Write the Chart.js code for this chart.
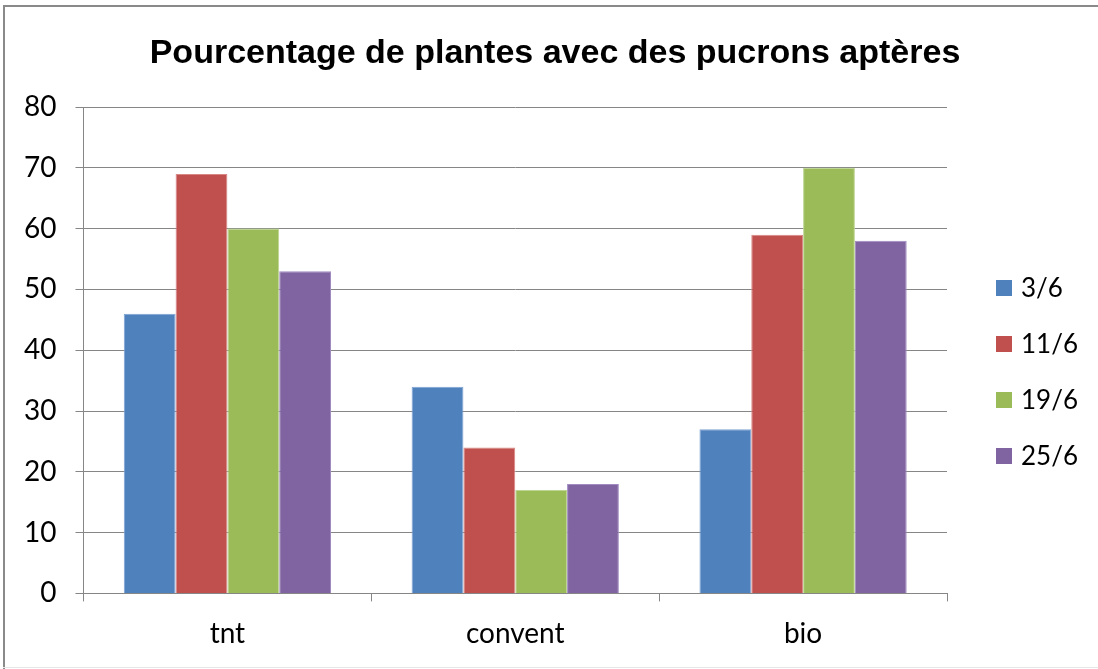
<!DOCTYPE html>
<html>
<head>
<meta charset="utf-8">
<script src="https://cdn.jsdelivr.net/npm/chart.js@4.4.1/dist/chart.umd.min.js"></script>
<style>
  html, body { margin: 0; padding: 0; background: #fff; }
  #wrap { width: 1098px; height: 669px; }
</style>
</head>
<body>
<div id="wrap"><canvas id="myChart" width="1098" height="669"></canvas></div>
<script>
"use strict";

// données
const categories = ['tnt', 'convent', 'bio'];
const seriesNames = ['3/6', '11/6', '19/6', '25/6'];
const v3_6 = [46, 34, 27];
const v11_6 = [69, 24, 59];
const v19_6 = [60, 17, 70];
const v25_6 = [53, 18, 58];
const yTicks = [0, 10, 20, 30, 40, 50, 60, 70, 80];
const titleText = 'Pourcentage de plantes avec des pucrons aptères';

const colors = ['#4F81BD', '#C0504D', '#9BBB59', '#8064A2'];
const edges = ['#7EA3D3', '#D88784', '#BDD592', '#A18BC0'];
const labelFont = 'Lato';

// cadre + fond blanc + titre
const frame = {
    id: 'frame',
    beforeDraw(chart) {
        const c = chart.ctx;
        c.save();
        c.fillStyle = '#fff';
        c.fillRect(0, 0, chart.width, chart.height);
        c.fillStyle = '#8a8a8a';
        c.fillRect(3, 5, chart.width - 3, 2);   // haut
        c.fillRect(3, 5, 2, chart.height - 5);  // gauche
        c.fillStyle = '#e6e6e6';
        c.fillRect(3, chart.height - 2, chart.width - 3, 1);
        // titre
        c.fillStyle = '#000';
        c.font = 'bold 34px "Liberation Sans"';
        c.textAlign = 'center';
        c.textBaseline = 'alphabetic';
        c.fillText(titleText, 555, 63);
        c.restore();
    }
};

// légende à droite (carrés + texte)
const sideLegend = {
    id: 'sideLegend',
    afterDraw(chart) {
        const c = chart.ctx;
        c.save();
        c.font = '26px ' + labelFont;
        c.textBaseline = 'middle';
        chart.data.datasets.forEach((ds, i) => {
            const y = 288 + i * 56;
            c.fillStyle = ds.backgroundColor;
            c.fillRect(996, y - 8, 16, 16);
            c.fillStyle = '#000';
            c.fillText(ds.label, 1021, y + 1);
        });
        c.restore();
    }
};

const datasets = [v3_6, v11_6, v19_6, v25_6].map((vals, i) => ({
    label: seriesNames[i],
    data: vals,
    backgroundColor: colors[i],
    borderColor: edges[i],
    borderWidth: 1,
    categoryPercentage: 0.72,
    barPercentage: 1.0
}));

const ctx = document.getElementById('myChart');
const myChart = new Chart(ctx, {
    type: 'bar',
    data: { labels: categories, datasets: datasets },
    options: {
        responsive: false,
        animation: false,
        layout: { padding: { left: 5, right: 151, top: 107, bottom: 2 } },
        plugins: {
            legend: { display: false },
            tooltip: { enabled: false },
            title: { display: false }
        },
        scales: {
            x: {
                offset: true,
                grid: {
                    offset: true,
                    drawOnChartArea: false,
                    drawTicks: true,
                    tickLength: 8,
                    color: '#868686'
                },
                border: { color: '#868686' },
                ticks: {
                    color: '#000',
                    padding: 16,
                    font: { family: labelFont, size: 28 }
                }
            },
            y: {
                min: 0,
                max: 80,
                afterBuildTicks(scale) {
                    scale.ticks = yTicks.map(v => ({ value: v }));
                },
                grid: {
                    color: '#868686',
                    tickLength: 8
                },
                border: { color: '#868686' },
                ticks: {
                    color: '#000',
                    padding: 19,
                    font: { family: labelFont, size: 28 }
                }
            }
        }
    },
    plugins: [frame, sideLegend]
});
</script>
</body>
</html>
